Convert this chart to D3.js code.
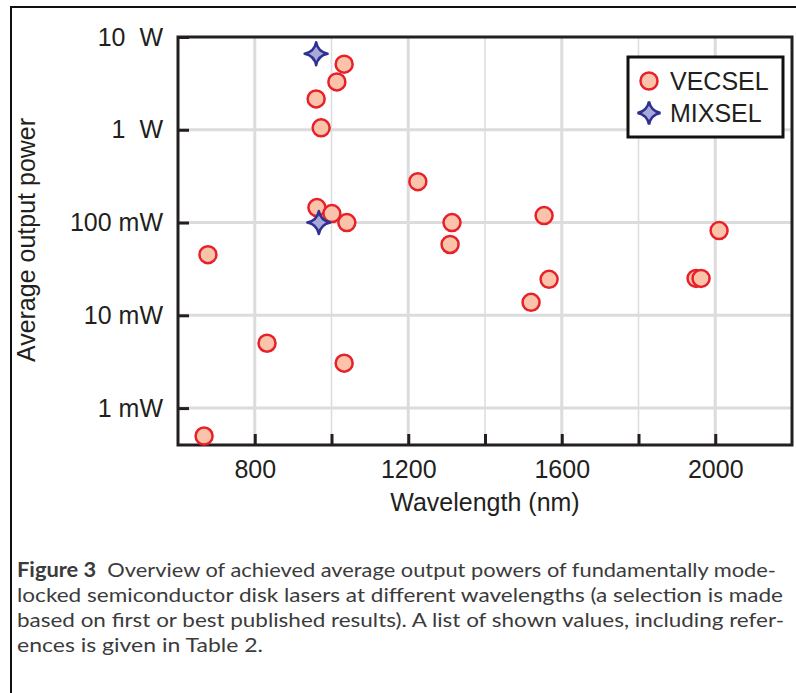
<!DOCTYPE html>
<html>
<head>
<meta charset="utf-8">
<script src="https://cdn.jsdelivr.net/npm/d3@7"></script>
<style>
  body { margin: 0; background: #fff; }
  svg { display: block; }
  text { font-family: "Liberation Sans", Arial, sans-serif; fill: #231f20; }
  .caption text, .caption tspan { font-family: Lato, "Open Sans", sans-serif; fill: #3b3b3b; }
</style>
</head>
<body>
<div id="chart"></div>
<script>
const width = 796
const height = 693

// data (wavelength in nm, power in mW)
const vecselWl = [668, 678, 832, 960, 962, 973, 1001, 1014, 1033, 1033, 1040, 1225, 1309, 1314, 1520, 1554, 1567, 1950, 1963, 2010]
const vecselPow = [0.5, 45, 5, 2150, 145, 1050, 125, 3280, 5100, 3.05, 100, 276, 58, 100, 13.8, 119, 24.4, 25, 25, 82]
const mixselWl = [960, 967]
const mixselPow = [6600, 100]

const xTicks = [800, 1000, 1200, 1400, 1600, 1800, 2000]
const xLabelled = [800, 1200, 1600, 2000]
const yTicks = [1, 10, 100, 1000, 10000]
const yLabels = ["1 mW", "10 mW", "100 mW", "1  W", "10  W"]

const captionLines = [
  "Overview of achieved average output powers of fundamentally mode-",
  "locked semiconductor disk lasers at different wavelengths (a selection is made",
  "based on first or best published results). A list of shown values, including refer-",
  "ences is given in Table 2."
]

const margin = {left: 178, top: 37, right: 4, bottom: 248}
const plotW = width - margin.left - margin.right
const plotH = height - margin.top - margin.bottom

const svg = d3.select("#chart")
              .append("svg")
              .attr("width", width)
              .attr("height", height)

// outer frame (runs off the picture at right and bottom)
svg.append("rect")
   .attr("x", 11).attr("y", 7)
   .attr("width", 820).attr("height", 720)
   .attr("fill", "none")
   .attr("stroke", "#111")
   .attr("stroke-width", 2)

const x = d3.scaleLinear().domain([600, 2200]).range([0, plotW])
const y = d3.scaleLog().domain([0.4, 10000]).range([plotH, 0])

const g = svg.append("g").attr("transform", `translate(${margin.left},${margin.top})`)

// grid
g.selectAll(".vgrid")
 .data(xTicks)
 .enter().append("line")
 .attr("x1", d => x(d)).attr("x2", d => x(d))
 .attr("y1", 0).attr("y2", plotH)
 .attr("stroke", "#dcdcde")
 .attr("stroke-width", d => xLabelled.includes(d) ? 3 : 1.5)

g.selectAll(".hgrid")
 .data(yTicks.slice(0, 4))
 .enter().append("line")
 .attr("x1", 0).attr("x2", plotW)
 .attr("y1", d => y(d)).attr("y2", d => y(d))
 .attr("stroke", "#dcdcde")
 .attr("stroke-width", 3)

// axes
const xAxis = d3.axisBottom(x)
                .tickValues(xTicks)
                .tickSize(-11)
                .tickPadding(15)
                .tickFormat(d => xLabelled.includes(d) ? d : "")

const yAxis = d3.axisLeft(y)
                .tickValues(yTicks)
                .tickSize(-11)
                .tickPadding(15)
                .tickFormat((d, i) => yLabels[i])

const gx = g.append("g").attr("transform", `translate(0,${plotH})`).call(xAxis)
const gy = g.append("g").call(yAxis)

;[gx, gy].forEach(a => {
  a.select(".domain").remove()
  a.selectAll(".tick line").attr("stroke", "#231f20").attr("stroke-width", 3)
  a.selectAll(".tick text")
   .style("font-size", "25px")
   .style("font-family", "'Liberation Sans', Arial, sans-serif")
   .style("white-space", "pre")
   .attr("fill", "#231f20")
})

// plot border
g.append("rect")
 .attr("x", 0).attr("y", 0)
 .attr("width", plotW).attr("height", plotH)
 .attr("fill", "none")
 .attr("stroke", "#231f20")
 .attr("stroke-width", 3)

// axis titles
svg.append("text")
   .attr("x", margin.left + plotW / 2)
   .attr("y", 511)
   .attr("text-anchor", "middle")
   .style("font-size", "25px")
   .text("Wavelength (nm)")

svg.append("text")
   .attr("transform", "translate(35,240) rotate(-90)")
   .attr("text-anchor", "middle")
   .style("font-size", "25px")
   .text("Average output power")

// markers
const starPath = (R) => {
  const c = R * 0.16
  return `M0,${-R} Q${c},${-c} ${R},0 Q${c},${c} 0,${R} Q${-c},${c} ${-R},0 Q${-c},${-c} 0,${-R} Z`
}

g.selectAll(".vecsel")
 .data(vecselWl)
 .enter().append("circle")
 .attr("cx", d => x(d))
 .attr("cy", (d, i) => y(vecselPow[i]))
 .attr("r", 8.5)
 .attr("fill", "#fbc4aa")
 .attr("stroke", "#e8202a")
 .attr("stroke-width", 2.5)

g.selectAll(".mixsel")
 .data(mixselWl)
 .enter().append("path")
 .attr("d", starPath(11.5))
 .attr("transform", (d, i) => `translate(${x(d)},${y(mixselPow[i])})`)
 .attr("fill", "#a9a9d9")
 .attr("stroke", "#2e3192")
 .attr("stroke-width", 2.5)
 .attr("stroke-linejoin", "round")

// legend
const legend = svg.append("g").attr("id", "legend")
legend.append("rect")
      .attr("x", 628).attr("y", 57)
      .attr("width", 155).attr("height", 80)
      .attr("fill", "#fff")
      .attr("stroke", "#111")
      .attr("stroke-width", 3)
legend.append("circle")
      .attr("cx", 649).attr("cy", 81).attr("r", 8.5)
      .attr("fill", "#fbc4aa").attr("stroke", "#e8202a").attr("stroke-width", 2.5)
legend.append("path")
      .attr("d", starPath(11.5))
      .attr("transform", "translate(649,113)")
      .attr("fill", "#a9a9d9").attr("stroke", "#2e3192").attr("stroke-width", 2.5)
legend.append("text").attr("x", 670).attr("y", 90).style("font-size", "25px").text("VECSEL")
legend.append("text").attr("x", 670).attr("y", 122).style("font-size", "25px").text("MIXSEL")

// caption
const cap = svg.append("g").attr("class", "caption")
const capWidths = [759, 766, 767, 246]
captionLines.forEach((line, i) => {
  const t = cap.append("text")
               .attr("x", 17)
               .attr("y", 577 + i * 25)
               .attr("textLength", capWidths[i])
               .attr("lengthAdjust", "spacingAndGlyphs")
               .style("font-size", "20px")
  if (i === 0) {
    t.append("tspan").style("font-weight", "bold").text("Figure 3")
    t.append("tspan").style("white-space", "pre").text("  " + line)
  } else {
    t.text(line)
  }
})
</script>
</body>
</html>
